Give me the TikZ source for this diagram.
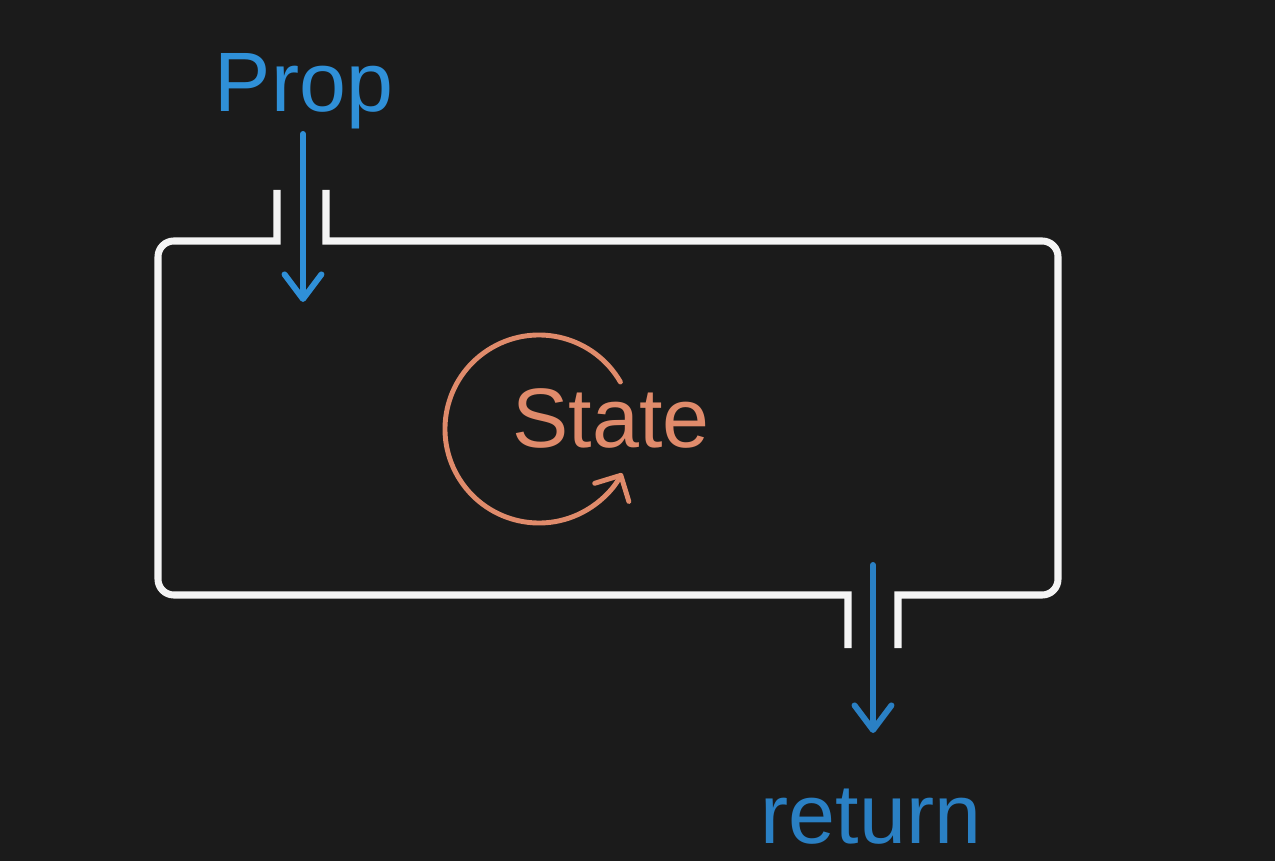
\documentclass[tikz,border=0pt]{standalone}
\usepackage{fontspec}
\setmainfont{Liberation Sans}
\usetikzlibrary{arrows.meta, positioning}

\definecolor{bgdark}{HTML}{1B1B1B}
\definecolor{propblue}{HTML}{2F90D8}
\definecolor{retblue}{HTML}{2A80C4}
\definecolor{stateorange}{HTML}{E08B6B}
\definecolor{wallwhite}{HTML}{F4F4F4}

\begin{document}
\begin{tikzpicture}[
    x=0.02cm, y=-0.02cm,
    >={Straight Barb[length=14pt, width=21pt, round]},
    label/.style={font=\fontsize{48}{56}\selectfont, inner sep=0pt, anchor=base},
    wall/.style={draw=wallwhite, line width=4pt, line cap=butt},
    flow/.style={draw=propblue, line width=3.4pt, line cap=round, ->}
]

% Background -------------------------------------------------

\fill[bgdark] (0,0) rectangle (1275,861);
\useasboundingbox (0,0) rectangle (1275,861);

% Nodes ------------------------------------------------------

\node[label, text=propblue] (prop) at (304,112) {Prop};
\node[label, text=stateorange] (state) at (611,448) {State};
\node[label, text=retblue] (ret) at (871,843) {return};

\coordinate (in start) at (303,134);
\coordinate (in end) at (303,302);
\coordinate (out start) at (873,565);
\coordinate (out end) at (873,733);

% Box --------------------------------------------------------

\draw[wall] (277,190) -- (277,241) -- (220,241) [rounded corners=9pt]
    -- (158,241) -- (158,595) -- (700,595) [sharp corners]
    -- (848,595) -- (848,648);
\draw[wall] (898,648) -- (898,595) -- (980,595) [rounded corners=9pt]
    -- (1058,595) -- (1058,241) -- (500,241) [sharp corners]
    -- (326,241) -- (326,190);

% Arrows -----------------------------------------------------

\draw[flow] (in start) -- (in end);
\draw[flow, draw=retblue] (out start) -- (out end);

\draw[stateorange, line width=2.8pt, line cap=round,
    -{Straight Barb[length=11pt, width=22pt, round]}]
    (539,429) ++(-30:94) arc[start angle=-30, end angle=-332, radius=94];

\end{tikzpicture}
\end{document}
